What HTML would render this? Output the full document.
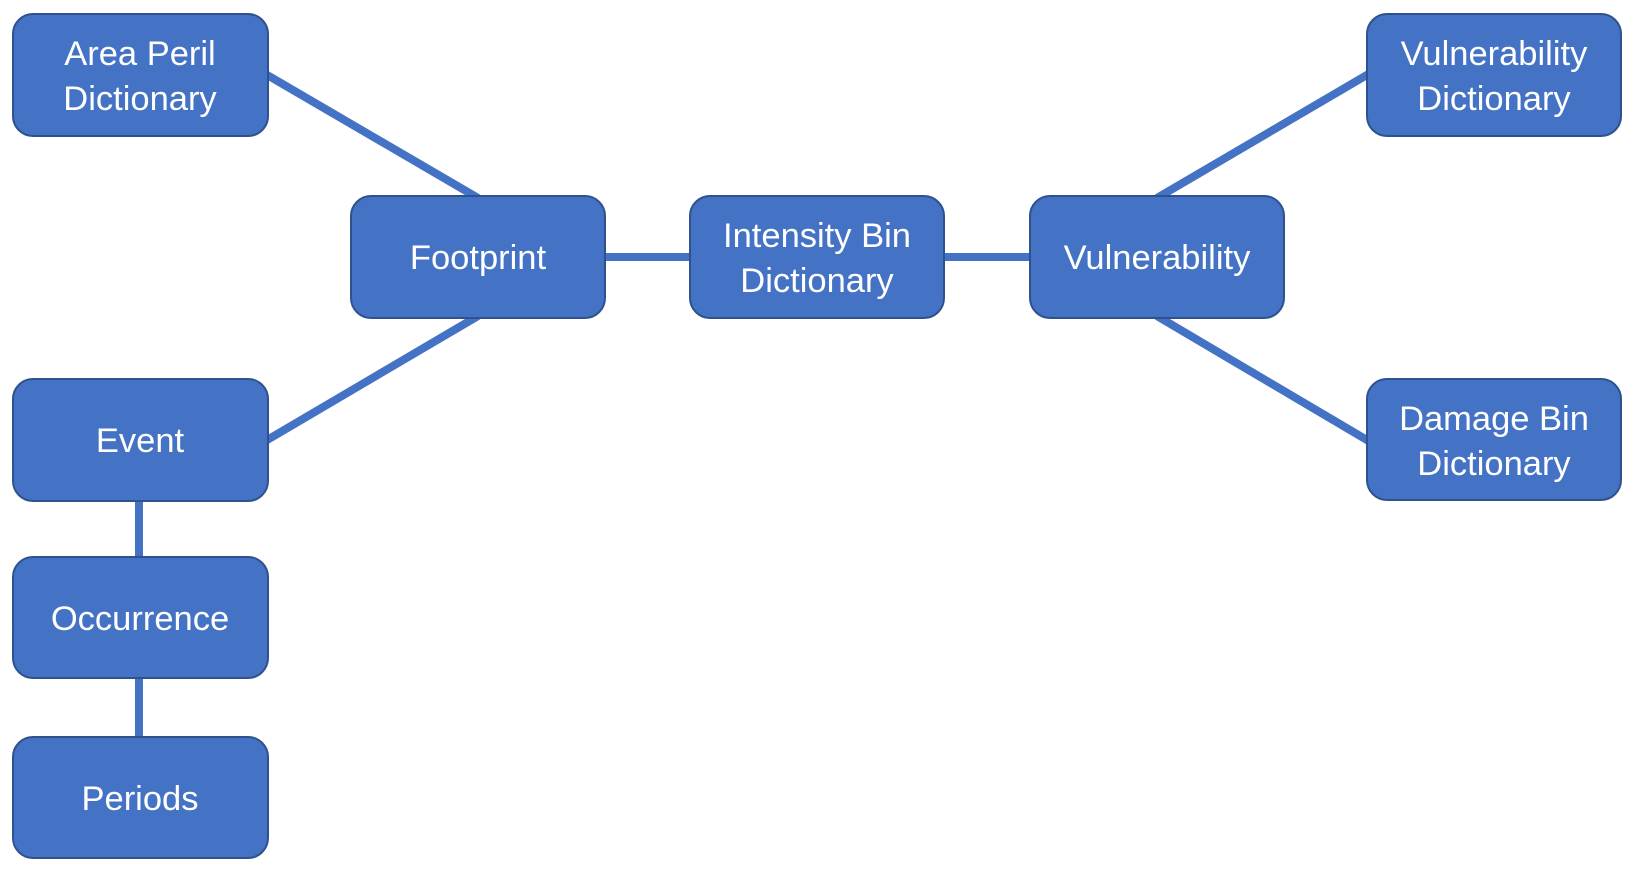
<!DOCTYPE html>
<html>
<head>
<meta charset="utf-8">
<style>
  html, body { margin: 0; padding: 0; background: #ffffff; }
  body { width: 1636px; height: 874px; overflow: hidden; }
  svg { display: block; }
  .box { fill: #4472C4; stroke: #2F528F; stroke-width: 2; }
  .ln { stroke: #4472C4; stroke-width: 8; fill: none; stroke-linecap: butt; }
  text { font-family: "Liberation Sans", Arial, sans-serif; font-size: 34.5px; fill: #ffffff; text-anchor: middle; }
</style>
</head>
<body>
<svg width="1636" height="874" viewBox="0 0 1636 874" xmlns="http://www.w3.org/2000/svg">
  <!-- connectors -->
  <line class="ln" x1="262" y1="72" x2="478" y2="198"/>
  <line class="ln" x1="262" y1="443" x2="478" y2="316"/>
  <line class="ln" x1="600" y1="257" x2="694" y2="257"/>
  <line class="ln" x1="940" y1="257" x2="1034" y2="257"/>
  <line class="ln" x1="1157" y1="198" x2="1372" y2="72"/>
  <line class="ln" x1="1157" y1="316" x2="1372" y2="443"/>
  <line class="ln" x1="139" y1="496" x2="139" y2="562"/>
  <line class="ln" x1="139" y1="673" x2="139" y2="742"/>

  <!-- boxes -->
  <rect class="box" x="13" y="14" width="255" height="122" rx="20" ry="20"/>
  <rect class="box" x="351" y="196" width="254" height="122" rx="20" ry="20"/>
  <rect class="box" x="690" y="196" width="254" height="122" rx="20" ry="20"/>
  <rect class="box" x="1030" y="196" width="254" height="122" rx="20" ry="20"/>
  <rect class="box" x="1367" y="14" width="254" height="122" rx="20" ry="20"/>
  <rect class="box" x="1367" y="379" width="254" height="121" rx="20" ry="20"/>
  <rect class="box" x="13" y="379" width="255" height="122" rx="20" ry="20"/>
  <rect class="box" x="13" y="557" width="255" height="121" rx="20" ry="20"/>
  <rect class="box" x="13" y="737" width="255" height="121" rx="20" ry="20"/>

  <!-- labels -->
  <text x="140" y="65">Area Peril</text>
  <text x="140" y="110">Dictionary</text>

  <text x="478" y="269">Footprint</text>

  <text x="817" y="247">Intensity Bin</text>
  <text x="817" y="292">Dictionary</text>

  <text x="1157" y="269">Vulnerability</text>

  <text x="1494" y="65">Vulnerability</text>
  <text x="1494" y="110">Dictionary</text>

  <text x="1494" y="430">Damage Bin</text>
  <text x="1494" y="475">Dictionary</text>

  <text x="140" y="452">Event</text>
  <text x="140" y="630">Occurrence</text>
  <text x="140" y="810">Periods</text>
</svg>
</body>
</html>
